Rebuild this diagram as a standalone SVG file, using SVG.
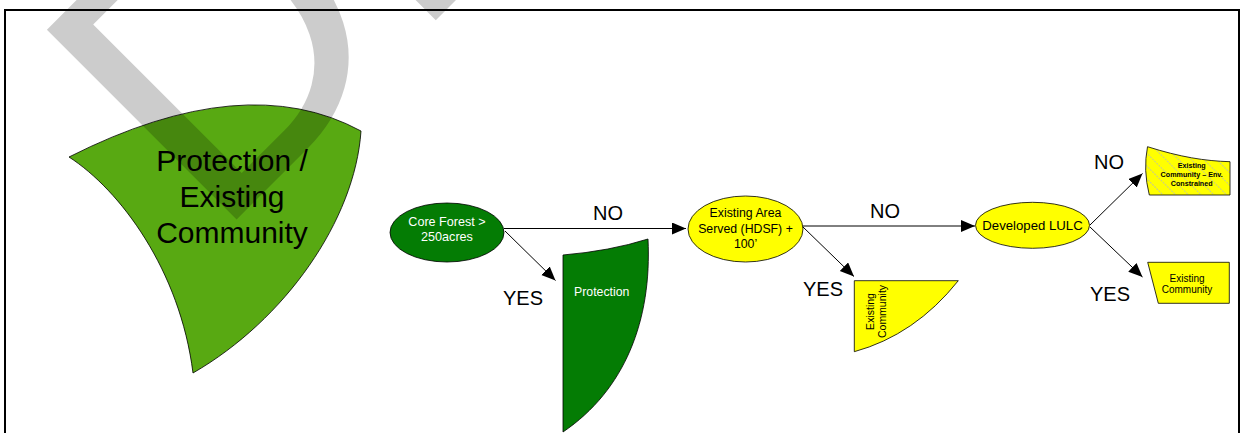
<svg xmlns="http://www.w3.org/2000/svg" width="1241" height="433" viewBox="0 0 1241 433">
<style>
text{font-family:"Liberation Sans",Arial,sans-serif;}
.lbl{font-size:20px;fill:#000;text-anchor:middle;}
.conn{stroke:#000;stroke-width:1;fill:none;marker-end:url(#arr);}
.shape{stroke:#000;stroke-width:0.8;}
.dg{fill:#047c04;}
.yl{fill:#ffff00;}
.wt{fill:#fff;text-anchor:middle;}
.bt{fill:#000;text-anchor:middle;}
</style>
<defs>
<marker id="arr" markerUnits="userSpaceOnUse" markerWidth="15" markerHeight="13" refX="14" refY="6" orient="auto">
<path d="M0,0 L14,6 L0,12 Z" fill="#000"/>
</marker>
<pattern id="hatch" patternUnits="userSpaceOnUse" width="9" height="9" patternTransform="rotate(-45)">
<rect width="9" height="9" fill="#ffff00"/>
<line x1="0" y1="0" x2="0" y2="9" stroke="#a9b0d8" stroke-width="1.3" stroke-dasharray="2,1"/>
</pattern>
</defs>
<rect width="1241" height="433" fill="#fff"/>
<rect x="5" y="10" width="1234" height="500" fill="none" stroke="#000" stroke-width="2"/>

<g id="legend">
<path class="shape" fill="#58a912" stroke="#333" d="M69,157 Q245,68 361,131 C355,220 285,320 193,373 C180,270 120,190 69,157 Z"/>
</g>
<text x="214" y="242" transform="rotate(-45 214 242)" font-size="390" fill="#000" fill-opacity="0.2">DR</text>
<g id="legend-text">
<text class="bt" font-size="30" x="232" y="171">Protection /</text>
<text class="bt" font-size="30" x="232" y="207">Existing</text>
<text class="bt" font-size="30" x="232" y="243">Community</text>
</g>

<g id="connectors">
<line class="conn" x1="504" y1="228.5" x2="686" y2="228.5"/>
<line class="conn" x1="505" y1="231" x2="555.5" y2="280.5"/>
<line class="conn" x1="803" y1="226" x2="975" y2="226"/>
<line class="conn" x1="803" y1="227" x2="854" y2="276.5"/>
<line class="conn" x1="1090" y1="225" x2="1142.5" y2="173.5"/>
<line class="conn" x1="1090" y1="227" x2="1142.5" y2="277"/>
<text class="lbl" x="608" y="219.5">NO</text>
<text class="lbl" x="523" y="304.5">YES</text>
<text class="lbl" x="885" y="217.5">NO</text>
<text class="lbl" x="823" y="296">YES</text>
<text class="lbl" x="1109" y="168.5">NO</text>
<text class="lbl" x="1110" y="301">YES</text>
</g>

<g id="core-forest">
<ellipse class="shape dg" cx="447" cy="232.5" rx="57" ry="29.5"/>
<text class="wt" font-size="12.6" x="447" y="226">Core Forest &gt;</text>
<text class="wt" font-size="12.6" x="447" y="240.7">250acres</text>
</g>

<g id="protection">
<path class="shape dg" d="M563,255 Q610,251 648,239 C652,320 625,390 563,432 Z"/>
<text class="wt" font-size="12.3" x="601.7" y="296">Protection</text>
</g>

<g id="existing-area">
<ellipse class="shape yl" cx="745.5" cy="229" rx="57.5" ry="33"/>
<text class="bt" font-size="12.3" x="745.5" y="217.3">Existing Area</text>
<text class="bt" font-size="12.3" x="745.5" y="232.5">Served (HDSF) +</text>
<text class="bt" font-size="12.3" x="745.5" y="247.5">100’</text>
</g>

<g id="existing-community-1">
<path class="shape yl" d="M854.3,280.7 L958.3,280.7 Q915,335 854.3,351.7 Z"/>
<g transform="translate(873.5 311.5) rotate(-90)">
<text class="bt" font-size="10.5" x="0" y="0">Existing</text>
<text class="bt" font-size="10.5" x="0" y="12">Community</text>
</g>
</g>

<g id="developed-lulc">
<ellipse class="shape yl" cx="1032.5" cy="225.3" rx="57" ry="23"/>
<text class="bt" font-size="13.2" x="1032.5" y="230">Developed LULC</text>
</g>

<g id="existing-community-env">
<path class="shape" fill="url(#hatch)" d="M1147.5,146.7 C1180,157 1205,161 1230,161.7 L1230,195 L1149.3,195 Q1143,170 1147.5,146.7 Z"/>
<text class="bt" font-size="7.2" font-weight="bold" x="1191.7" y="168.3">Existing</text>
<text class="bt" font-size="7.2" font-weight="bold" x="1191.7" y="177">Community – Env.</text>
<text class="bt" font-size="7.2" font-weight="bold" x="1191.7" y="185.7">Constrained</text>
</g>

<g id="existing-community-2">
<path class="shape yl" d="M1147.7,262.3 L1229.3,262.3 L1229.3,303.3 L1158.3,303.3 Z"/>
<text class="bt" font-size="10" x="1187" y="281.7">Existing</text>
<text class="bt" font-size="10" x="1187" y="293.3">Community</text>
</g>
</svg>
